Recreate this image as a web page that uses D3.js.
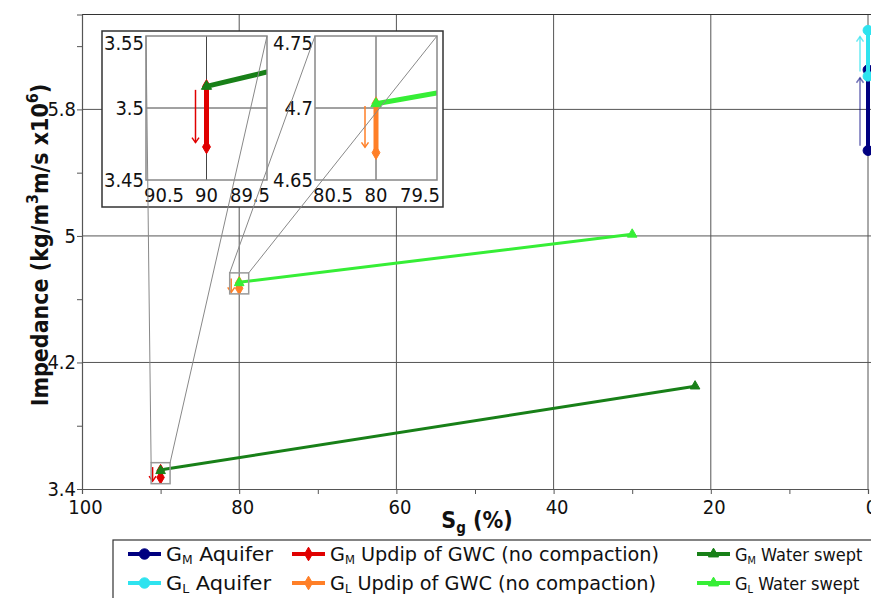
<!DOCTYPE html>
<html>
<head>
<meta charset="utf-8">
<script src="https://cdn.jsdelivr.net/npm/d3@7/dist/d3.min.js"></script>
<style>
  html, body { margin: 0; padding: 0; background: #fff; }
  svg { display: block; }
  text { font-family: "DejaVu Sans Condensed", "DejaVu Sans", sans-serif; fill: #111; }
</style>
</head>
<body>
<svg id="chart" width="871" height="598"></svg>
<script>
// ---------------- data ----------------
const xTicksMajor = [100, 80, 60, 40, 20, 0];
const xTicksMinor = [90, 70, 50, 30, 10];
const yTicksMajor = [3.4, 4.2, 5.0, 5.8];
const yTicksMinor = [3.8, 4.6, 5.4, 6.2];

const gmAquiferSg = [0, 0];
const gmAquiferImp = [5.54, 6.05];
const glAquiferSg = [0, 0];
const glAquiferImp = [6.01, 6.30];
const gmUpdipSg = [90, 90];
const gmUpdipImp = [3.515, 3.473];
const glUpdipSg = [80, 80];
const glUpdipImp = [4.703, 4.669];
const gmSweptSg = [90, 89.5, 22];
const gmSweptImp = [3.515, 3.525, 4.05];
const glSweptSg = [80, 79.5, 30];
const glSweptImp = [4.703, 4.7105, 5.01];

// arrows: [Sg, from impedance, to impedance]
const gmAquiferArrow = [0, 5.57, 6.0];
const glAquiferArrow = [0, 6.04, 6.26];
const gmUpdipArrow = [90, 3.5126, 3.476];
const glUpdipArrow = [80, 4.7014, 4.6727];

// inset zoom windows
const inset1XTicks = [90.5, 90, 89.5];
const inset1YTicks = [3.45, 3.5, 3.55];
const inset2XTicks = [80.5, 80, 79.5];
const inset2YTicks = [4.65, 4.7, 4.75];

const series = [
  {name: "Aquifer", g: "M", sg: gmAquiferSg, imp: gmAquiferImp, color: "#000080", marker: "circle", width: 4, arrow: gmAquiferArrow, arrowOpacity: 0.55},
  {name: "Aquifer", g: "L", sg: glAquiferSg, imp: glAquiferImp, color: "#2ee3ef", marker: "circle", width: 4, arrow: glAquiferArrow, arrowOpacity: 0.7},
  {name: "Updip of GWC (no compaction)", g: "M", sg: gmUpdipSg, imp: gmUpdipImp, color: "#e00000", marker: "diamond", width: 3, arrow: gmUpdipArrow, arrowOpacity: 1},
  {name: "Updip of GWC (no compaction)", g: "L", sg: glUpdipSg, imp: glUpdipImp, color: "#ff7f27", marker: "diamond", width: 3, arrow: glUpdipArrow, arrowOpacity: 1},
  {name: "Water swept", g: "M", sg: gmSweptSg, imp: gmSweptImp, color: "#188018", marker: "triangle", width: 3},
  {name: "Water swept", g: "L", sg: glSweptSg, imp: glSweptImp, color: "#36ee36", marker: "triangle", width: 3}
];

// ---------------- layout ----------------
const svg = d3.select("#chart");
const L = 82, R = 868, T = 14.5, B = 489;
const x = d3.scaleLinear().domain([100, 0]).range([L, R]);
const y = d3.scaleLinear().domain([3.4, 6.4]).range([B, T]);
const gridColor = "#555";

function symbolPath(type, size) {
  const t = type === "circle" ? d3.symbolCircle : type === "diamond" ? d3.symbolDiamond : d3.symbolTriangle;
  const s = type === "circle" ? size * 1.9 : type === "diamond" ? size * 1.2 : size;
  return d3.symbol().type(t).size(s)();
}

function drawSeries(g, xs, ys, s, lw, msize) {
  const pts = s.sg.map((v, i) => [xs(v), ys(s.imp[i])]);
  g.append("path").attr("d", d3.line()(pts)).attr("fill", "none")
    .attr("stroke", s.color).attr("stroke-width", lw).attr("stroke-linejoin", "round");
  const ends = [pts[0], pts[pts.length - 1]];
  ends.forEach(p => {
    g.append("path").attr("d", symbolPath(s.marker, msize))
      .attr("transform", `translate(${p[0]},${p[1]})`).attr("fill", s.color).attr("stroke", s.color).attr("stroke-width", 1);
  });
}

function drawArrow(g, xp, y0, y1, color, op, minLen) {
  if (Math.abs(y1 - y0) < minLen) {
    const m = (y0 + y1) / 2, dir = Math.sign(y1 - y0) || 1;
    y0 = m - dir * minLen / 2; y1 = m + dir * minLen / 2;
  }
  const dir = Math.sign(y1 - y0);
  g.append("line").attr("x1", xp).attr("x2", xp).attr("y1", y0).attr("y2", y1)
    .attr("stroke", color).attr("stroke-width", 1.5).attr("opacity", op);
  g.append("path").attr("d", `M${xp - 3.5},${y1 - dir * 5}L${xp},${y1}L${xp + 3.5},${y1 - dir * 5}`)
    .attr("fill", "none").attr("stroke", color).attr("stroke-width", 1.5).attr("opacity", op);
}

// ---- grid ----
const grid = svg.append("g");
xTicksMajor.filter(d => d !== 100).forEach(d => {
  grid.append("line").attr("x1", x(d)).attr("x2", x(d)).attr("y1", T).attr("y2", B)
    .attr("stroke", gridColor).attr("stroke-width", 1);
});
yTicksMajor.filter(d => d !== 3.4).forEach(d => {
  grid.append("line").attr("x1", L).attr("x2", 871).attr("y1", y(d)).attr("y2", y(d))
    .attr("stroke", gridColor).attr("stroke-width", 1);
});
grid.append("line").attr("x1", L).attr("x2", 871).attr("y1", T).attr("y2", T).attr("stroke", "#333").attr("stroke-width", 1.2);

// ---- axes ----
const fmtY = d => (d === 5 ? "5" : d3.format(".1f")(d));
const yAxis = d3.axisLeft(y).tickValues(yTicksMajor.concat(yTicksMinor))
  .tickFormat(d => yTicksMajor.includes(d) ? fmtY(d) : "").tickSize(5).tickPadding(1);
const gy = svg.append("g").attr("transform", `translate(${L},0)`).call(yAxis);
const xAxis = d3.axisBottom(x).tickValues(xTicksMajor.concat(xTicksMinor))
  .tickFormat(d => xTicksMajor.includes(d) ? String(d) : "").tickSize(5).tickPadding(6);
const gx = svg.append("g").attr("transform", `translate(0,${B})`).call(xAxis);
[gx, gy].forEach(g => {
  g.selectAll(".domain").attr("stroke", "#555").attr("stroke-width", 1.2);
  g.selectAll(".tick line").attr("stroke", "#555");
  g.selectAll(".tick text").attr("font-size", 20).attr("font-family", "DejaVu Sans Condensed, DejaVu Sans, sans-serif").attr("fill", "#111");
});
gx.selectAll(".tick text").attr("dx", 3);

// axis titles
const xt = svg.append("text").attr("x", 477).attr("y", 528).attr("text-anchor", "middle")
  .attr("font-size", 23).attr("font-weight", "bold");
xt.append("tspan").text("S");
xt.append("tspan").attr("font-size", 15).attr("dy", 5).text("g");
xt.append("tspan").attr("dy", -5).text(" (%)");

const yt = svg.append("text").attr("font-size", 23).attr("font-weight", "bold");
yt.append("tspan").text("Impedance (kg/m");
yt.append("tspan").attr("font-size", 16).attr("dy", -10).text("3");
yt.append("tspan").attr("dy", 10).text("m/s x10");
yt.append("tspan").attr("font-size", 16).attr("dy", -10).text("6");
yt.append("tspan").attr("dy", 10).text(")");
{
  const bb = yt.node().getBBox();
  const targetCenter = 245;
  yt.attr("transform", `translate(48,${targetCenter + bb.width / 2}) rotate(-90)`);
}

// ---- main data ----
const main = svg.append("g");
series.forEach(s => drawSeries(main, x, y, s, s.width, 40));
series.filter(s => s.arrow).forEach(s => {
  drawArrow(main, x(s.arrow[0]) - 8, y(s.arrow[1]), y(s.arrow[2]), s.color, s.arrowOpacity, 14);
});

// zoom boxes in main plot
const boxes = [
  {cx: (inset1XTicks[0] + inset1XTicks[2]) / 2, cy: (inset1YTicks[0] + inset1YTicks[2]) / 2},
  {cx: (inset2XTicks[0] + inset2XTicks[2]) / 2, cy: (inset2YTicks[0] + inset2YTicks[2]) / 2}
];
const bw = 9.5, bh = 10.5;
boxes.forEach(b => {
  svg.append("rect").attr("x", x(b.cx) - bw).attr("y", y(b.cy) - bh).attr("width", 2 * bw).attr("height", 2 * bh)
    .attr("fill", "none").attr("stroke", "#999").attr("stroke-width", 1.5);
});

// ---- inset ----
const inset = svg.append("g");
inset.append("rect").attr("x", 102).attr("y", 31).attr("width", 341).attr("height", 176)
  .attr("fill", "#fff").attr("stroke", "#333").attr("stroke-width", 1.5);

const insets = [
  {xt: inset1XTicks, yt: inset1YTicks, l: 146, r: 267, t: 36, b: 180, id: "c1"},
  {xt: inset2XTicks, yt: inset2YTicks, l: 315, r: 437, t: 36, b: 180, id: "c2"}
];
const fmtInY = d => (Math.round(d * 100) % 10 === 0 ? d3.format(".1f")(d) : d3.format(".2f")(d));
const fmtInX = d => (d % 1 === 0 ? String(d) : d3.format(".1f")(d));
const defs = svg.append("defs");
insets.forEach((p, k) => {
  const xs = d3.scaleLinear().domain([p.xt[0], p.xt[2]]).range([p.l, p.r]);
  const ys = d3.scaleLinear().domain([p.yt[0], p.yt[2]]).range([p.b, p.t]);
  defs.append("clipPath").attr("id", p.id).append("rect").attr("x", p.l).attr("y", p.t).attr("width", p.r - p.l).attr("height", p.b - p.t);
  const g = inset.append("g");
  g.append("line").attr("x1", xs(p.xt[1])).attr("x2", xs(p.xt[1])).attr("y1", p.t).attr("y2", p.b).attr("stroke", "#444");
  g.append("line").attr("x1", p.l).attr("x2", p.r).attr("y1", ys(p.yt[1])).attr("y2", ys(p.yt[1])).attr("stroke", "#444");
  const dg = g.append("g").attr("clip-path", `url(#${p.id})`);
  series.forEach(s => drawSeries(dg, xs, ys, s, 5, 45));
  series.filter(s => s.arrow).forEach(s => {
    drawArrow(dg, xs(s.arrow[0]) - 11, ys(s.arrow[1]), ys(s.arrow[2]), s.color, s.arrowOpacity, 0);
  });
  g.append("rect").attr("x", p.l).attr("y", p.t).attr("width", p.r - p.l).attr("height", p.b - p.t)
    .attr("fill", "none").attr("stroke", "#888").attr("stroke-width", 1.5);
  p.yt.forEach(d => {
    const yy = Math.max(ys(d), p.t + 7);
    g.append("text").attr("x", p.l - 2).attr("y", yy).attr("dy", "0.36em").attr("text-anchor", "end")
      .attr("font-size", 20).text(fmtInY(d));
  });
  p.xt.forEach((d, i) => {
    const anchor = i === 0 ? "start" : i === 2 ? "end" : "middle";
    const xx = i === 0 ? p.l - 2 : i === 2 ? p.r + 3 : xs(d);
    g.append("text").attr("x", xx).attr("y", 202).attr("text-anchor", anchor)
      .attr("font-size", 20).text(fmtInX(d));
  });
  const b = boxes[k];
  const bx0 = x(b.cx) - bw, bx1 = x(b.cx) + bw, by = y(b.cy) - bh;
  svg.append("line").attr("x1", bx0).attr("y1", by).attr("x2", p.l).attr("y2", p.t).attr("stroke", "#888").attr("stroke-width", 1);
  svg.append("line").attr("x1", bx1).attr("y1", by).attr("x2", p.r).attr("y2", p.t).attr("stroke", "#888").attr("stroke-width", 1);
});

// ---- legend ----
const leg = svg.append("g");
leg.append("rect").attr("x", 113).attr("y", 540).attr("width", 780).attr("height", 80)
  .attr("fill", "#fff").attr("stroke", "#333").attr("stroke-width", 1.2);
const colX = [128, 292, 697];
const rowY = [554, 583];
const colFont = [20, 20, 18];
const colTextW = [[107, 329, 127], [105, 326, 125]];
series.forEach((s, i) => {
  const col = Math.floor(i / 2), row = i % 2;
  const x0 = colX[col], yy = rowY[row];
  const lw = 33;
  leg.append("line").attr("x1", x0).attr("x2", x0 + lw).attr("y1", yy).attr("y2", yy)
    .attr("stroke", s.color).attr("stroke-width", 4);
  leg.append("path").attr("d", symbolPath(s.marker, 45)).attr("transform", `translate(${x0 + lw / 2},${yy})`)
    .attr("fill", s.color).attr("stroke", s.color);
  const fs = colFont[col];
  const t = leg.append("text").attr("x", x0 + lw + 5).attr("y", yy + 7).attr("font-size", fs);
  t.append("tspan").text("G");
  t.append("tspan").attr("font-size", fs * 0.6).attr("dy", 3).text(s.g);
  t.append("tspan").attr("dy", -3).text(" " + s.name);
  const nat = t.node().getComputedTextLength();
  const target = colTextW[row][col];
  if (Math.abs(nat - target) > 2) t.attr("textLength", target).attr("lengthAdjust", "spacingAndGlyphs");
});
</script>
</body>
</html>
